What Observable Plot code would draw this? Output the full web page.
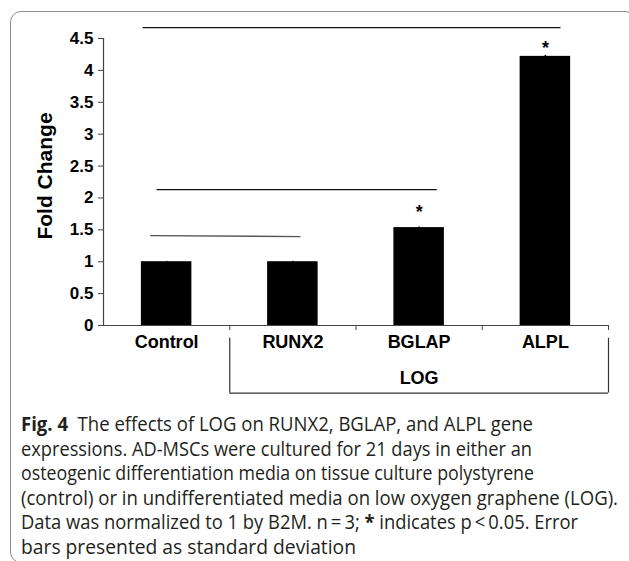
<!DOCTYPE html>
<html><head><meta charset="utf-8">
<script src="https://cdn.jsdelivr.net/npm/d3@7"></script>
<script src="https://cdn.jsdelivr.net/npm/@observablehq/plot@0.6"></script>
<style>
body{margin:0;background:#fff;}
#wrap{position:relative;width:629px;height:561px;overflow:hidden;background:#fff;}
#frame{position:absolute;left:10px;top:11px;width:626px;height:552px;border:1.5px solid #8c8c8c;border-radius:11px;box-sizing:border-box;pointer-events:none;}
#chart{position:absolute;left:0;top:0;}
#caption{position:absolute;left:21px;top:412px;font-family:"Open Sans",sans-serif;font-size:19.5px;line-height:24.5px;color:#231f20;}
#caption div{white-space:pre;transform-origin:0 50%;width:max-content;}
#caption b{font-weight:700;}
</style></head><body>
<div id="wrap"><div id="chart"></div><div id="caption"></div><div id="frame"></div></div>
<script>
// ---- data ----
const categories = ["Control", "RUNX2", "BGLAP", "ALPL"];
const foldChange = [1.0, 1.0, 1.535, 4.22];
const stdDev = [0.006, 0.006, 0.01, 0.015];
const significant = [false, false, true, true];
const asteriskLevel = [null, null, 1.86, 4.43];
const yTicks = [0, 0.5, 1, 1.5, 2, 2.5, 3, 3.5, 4, 4.5];
const yLabel = "Fold Change";
const groupLabel = "LOG";
const groupFrom = 0.5, groupTo = 3.5;
const groupTop = -0.2, groupBottom = -1.06, groupLabelLevel = -0.83;
// comparison lines (x in category index units, y in fold change)
const sigFrom = [-0.19, -0.08, -0.13];
const sigTo = [3.12, 2.14, 1.06];
const sigLevelStart = [4.67, 2.13, 1.41];
const sigLevelEnd = [4.67, 2.13, 1.395];

const rows = categories.map((c, i) => ({i, c, v: foldChange[i], sd: stdDev[i], sig: significant[i], star: asteriskLevel[i]}));
const sigIdx = sigFrom.map((_, i) => i);
const sigColors = ["#111", "#111", "#555"];

const chart = Plot.plot({
  width: 629, height: 400,
  marginTop: 38, marginBottom: 75, marginLeft: 103, marginRight: 21,
  x: {type: "linear", domain: [-0.5, 3.5]},
  y: {domain: [0, 4.5]},
  style: {fontFamily: "'Liberation Sans', Arial, sans-serif", background: "transparent", color: "#000", overflow: "visible"},
  marks: [
    Plot.rectY(rows, {x1: d => d.i - 0.2, x2: d => d.i + 0.2, y1: 0, y2: "v", fill: "#000"}),
    Plot.ruleX(rows, {x: "i", y1: d => d.v - d.sd, y2: d => d.v + d.sd, stroke: "#000", strokeWidth: 1.5}),
    Plot.ruleX([-0.5], {y1: 0, y2: 4.5, stroke: "#444", strokeWidth: 1.2}),
    Plot.ruleY([0], {x1: -0.5, x2: 3.5, stroke: "#444", strokeWidth: 1.2}),
    Plot.axisY({ticks: yTicks, tickSize: 5, tickPadding: 5, fontSize: 17, fontWeight: "bold", label: null, tickFormat: d => String(d), stroke: "#444"}),
    Plot.axisX({ticks: [0.5, 1.5, 2.5, 3.5], tickSize: 5, tickFormat: () => "", label: null, stroke: "#444"}),
    Plot.axisX({ticks: [0, 1, 2, 3], tickSize: 0, tickPadding: 10, tickFormat: i => categories[i], fontSize: 18, fontWeight: "bold", label: null}),
    Plot.text([yLabel], {frameAnchor: "left", textAnchor: "middle", rotate: -90, dx: -58, dy: -6, fontSize: 21, fontWeight: "bold", text: d => d}),
    Plot.text(rows.filter(d => d.sig), {x: "i", y: "star", text: () => "*", dy: 5, fontSize: 18, fontWeight: "bold"}),
    Plot.link(sigIdx, {x1: i => sigFrom[i], x2: i => sigTo[i], y1: i => sigLevelStart[i], y2: i => sigLevelEnd[i], stroke: i => sigColors[i], strokeWidth: 1.3}),
    Plot.ruleX([groupFrom, groupTo], {y1: groupTop, y2: groupBottom, stroke: "#333", strokeWidth: 1.2}),
    Plot.ruleY([groupBottom], {x1: groupFrom, x2: groupTo, stroke: "#333", strokeWidth: 1.2}),
    Plot.text([groupLabel], {x: (groupFrom + groupTo) / 2, y: groupLabelLevel, text: d => d, fontSize: 18, fontWeight: "bold"})
  ]
});
document.getElementById("chart").appendChild(chart);

// ---- caption ----
const captionLines = [
  "<b>Fig. 4</b>  The effects of LOG on RUNX2, BGLAP, and ALPL gene",
  "expressions. AD-MSCs were cultured for 21 days in either an",
  "osteogenic differentiation media on tissue culture polystyrene",
  "(control) or in undifferentiated media on low oxygen graphene (LOG).",
  "Data was normalized to 1 by B2M. n\u2009=\u20093; <b>*</b> indicates p\u2009&lt;\u20090.05. Error",
  "bars presented as standard deviation"
];
const captionWidths = [512, 511, 513, 597, 557, 335];
const cap = document.getElementById("caption");
captionLines.forEach((t, k) => {
  const div = document.createElement("div");
  div.innerHTML = t;
  cap.appendChild(div);
  const w = div.getBoundingClientRect().width;
  div.style.transform = `scaleX(${captionWidths[k] / w})`;
});
</script>
</body></html>
